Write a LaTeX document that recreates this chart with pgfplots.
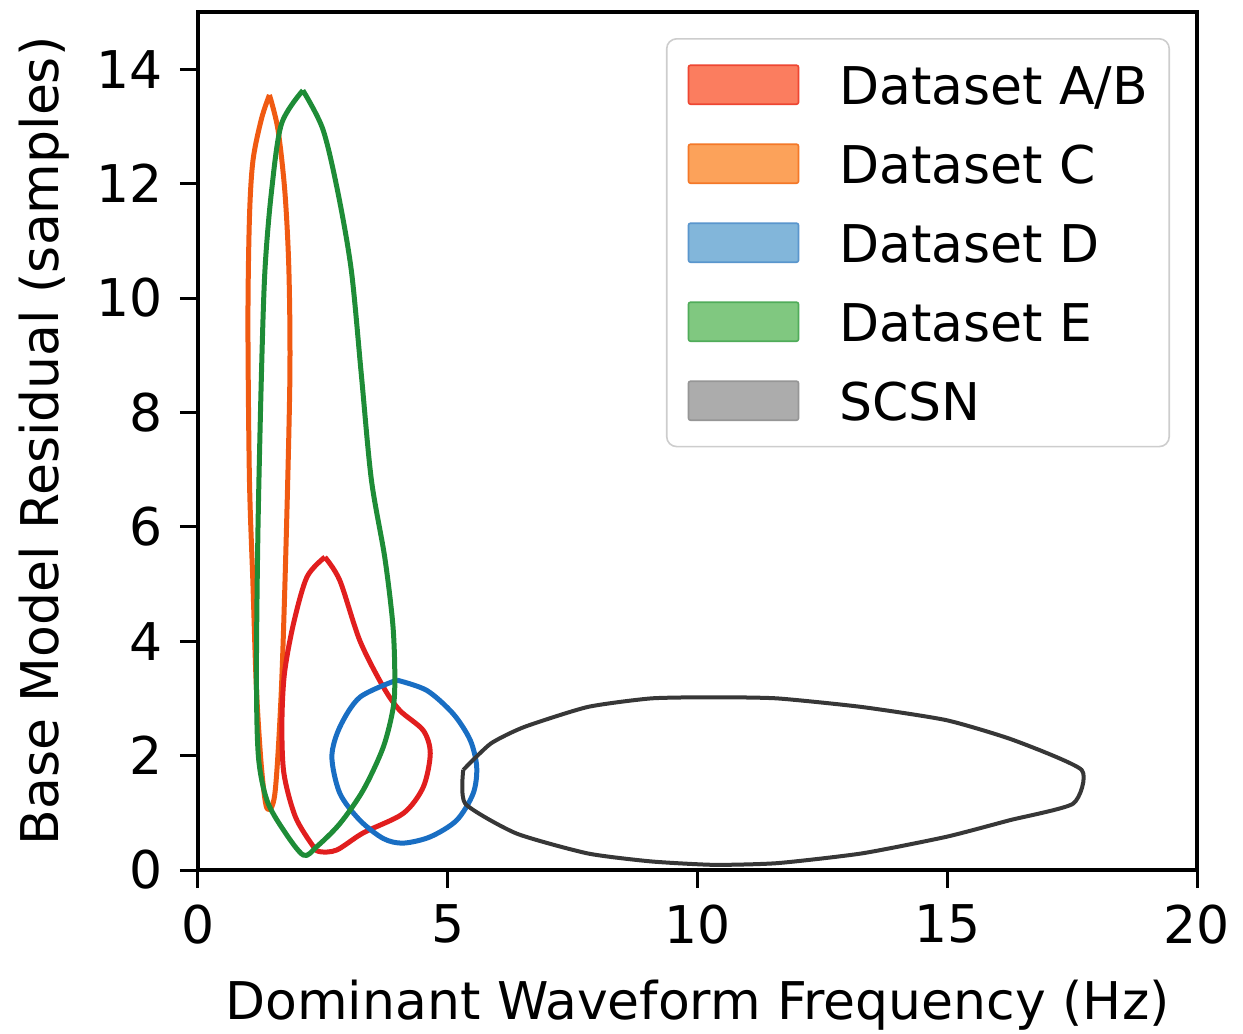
\documentclass[border=0pt]{standalone}
\usepackage{pgfplots}
\pgfplotsset{compat=1.18}
\usepackage{fontspec}
\setmainfont{DejaVu Sans}
\definecolor{redline}{RGB}{225,30,30}
\definecolor{orangeline}{RGB}{240,90,18}
\definecolor{blueline}{RGB}{25,110,195}
\definecolor{greenline}{RGB}{30,140,55}
\definecolor{grayline}{RGB}{55,55,55}
\definecolor{fAB}{RGB}{251,125,95}
\definecolor{eAB}{RGB}{238,70,50}
\definecolor{fC}{RGB}{252,162,90}
\definecolor{eC}{RGB}{244,120,40}
\definecolor{fD}{RGB}{130,182,218}
\definecolor{eD}{RGB}{90,150,205}
\definecolor{fE}{RGB}{128,200,128}
\definecolor{eE}{RGB}{80,172,90}
\definecolor{fS}{RGB}{172,172,172}
\definecolor{eS}{RGB}{150,150,150}
\definecolor{legedge}{RGB}{205,205,205}
\begin{document}
\begin{tikzpicture}[font=\fontsize{26}{31}\selectfont]
\useasboundingbox (-99pt,-82pt) rectangle (522.5pt,435pt);
\begin{axis}[
  scale only axis, width=499.5pt, height=429pt,
  xmin=0, xmax=20, ymin=0, ymax=15,
  xtick={0,5,10,15,20}, ytick={0,2,4,6,8,10,12,14},
  xtick pos=bottom, ytick pos=left,
  tick align=outside, major tick length=9pt,
  every tick/.style={black, line width=1.5pt},
  axis line style={line width=1.6pt},
  /pgf/number format/assume math mode=true,
  tick label style={font=\fontsize{26}{31}\selectfont},
  xticklabel style={yshift=-5pt},
  yticklabel style={xshift=-5pt},
  label style={font=\fontsize{26}{31}\selectfont},
  xlabel={Dominant Waveform Frequency (Hz)},
  ylabel={Base Model Residual (samples)},
  xlabel style={at={(axis description cs:0.5,-0.1737)}, anchor=base},
  ylabel style={at={(axis description cs:-0.1401,0.5)}, anchor=base, rotate=0},
  legend cell align=left,
  legend image code/.code={\draw[#1, line width=0.8pt, rounded corners=1pt] (0pt,-9.75pt) rectangle (55pt,9.75pt);},
  legend style={at={(0.973,0.9697)}, anchor=north east, draw=legedge, line width=0.8pt,
    rounded corners=5pt, fill=white, inner xsep=10.5pt, inner ysep=12.8pt,
    row sep=19.2pt, /tikz/column sep=20pt,
    font=\fontsize{26}{31}\selectfont,
    nodes={inner sep=0pt, text height=19.5pt, text depth=0pt}},
]
\addlegendimage{fill=fAB, draw=eAB}
\addlegendentry{Dataset A/B}
\addlegendimage{fill=fC, draw=eC}
\addlegendentry{Dataset C}
\addlegendimage{fill=fD, draw=eD}
\addlegendentry{Dataset D}
\addlegendimage{fill=fE, draw=eE}
\addlegendentry{Dataset E}
\addlegendimage{fill=fS, draw=eS}
\addlegendentry{SCSN}

% Dataset C
\addplot[forget plot, orangeline, line width=2.5pt, smooth, tension=0.5, line join=round] coordinates {
(1.43,13.55) (1.27,13.13) (1.10,12.4) (1.03,11.4) (1.00,9.57) (1.03,6.83)
(1.10,5.0) (1.17,3.17) (1.27,1.80) (1.38,1.08) (1.54,1.34) (1.67,3.17)
(1.77,5.92) (1.84,8.66) (1.82,10.48) (1.74,11.85) (1.60,12.95) (1.43,13.55)
};
% Dataset A/B
\addplot[forget plot, redline, line width=2.5pt, smooth, tension=0.5, line join=round] coordinates {
(2.54,5.47) (2.84,5.06) (3.24,4.01) (3.71,3.2) (4.04,2.79) (4.51,2.44)
(4.65,2.04) (4.51,1.45) (4.11,0.99) (3.31,0.65) (2.78,0.35) (2.44,0.32)
(2.31,0.41) (1.95,0.93) (1.72,1.69) (1.68,2.56) (1.73,3.43) (1.91,4.3)
(2.18,5.12) (2.54,5.47)
};
% Dataset D
\addplot[forget plot, blueline, line width=2.5pt, smooth, tension=0.5, line join=round] coordinates {
(3.98,3.32) (4.58,3.14) (5.11,2.73) (5.45,2.27) (5.58,1.80) (5.51,1.34)
(5.18,0.87) (4.65,0.58) (4.11,0.47) (3.71,0.55) (3.24,0.87) (2.84,1.34)
(2.68,1.98) (2.84,2.50) (3.24,3.02) (3.98,3.32)
};
% Dataset E
\addplot[forget plot, greenline, line width=2.5pt, smooth, tension=0.5, line join=round] coordinates {
(2.10,13.63) (2.50,12.95) (2.80,11.85) (3.07,10.48) (3.27,8.66) (3.47,6.83)
(3.74,5.46) (3.90,4.3) (3.94,3.43) (3.91,2.85) (3.71,2.15) (3.31,1.40)
(2.84,0.81) (2.38,0.41) (2.11,0.26) (1.71,0.70) (1.38,1.22) (1.21,1.98)
(1.17,3.4) (1.20,5.92) (1.27,8.66) (1.34,10.48) (1.47,11.85) (1.67,13.04)
(2.10,13.63)
};
% SCSN
\addplot[forget plot, grayline, line width=2pt, line join=round, smooth, tension=0.35] coordinates {
(5.31,1.75) (5.35,1.16) (6.37,0.64) (7.80,0.29) (9.07,0.15) (10.33,0.09)
(11.60,0.12) (13.29,0.29) (14.98,0.58) (16.25,0.87) (17.52,1.16) (17.69,1.75)
(16.33,2.27) (14.98,2.62) (13.29,2.85) (11.60,3.0) (10.33,3.02) (9.07,3.0)
(7.80,2.85) (6.53,2.50) (5.86,2.21) (5.31,1.75)
};
\end{axis}
\end{tikzpicture}
\end{document}
